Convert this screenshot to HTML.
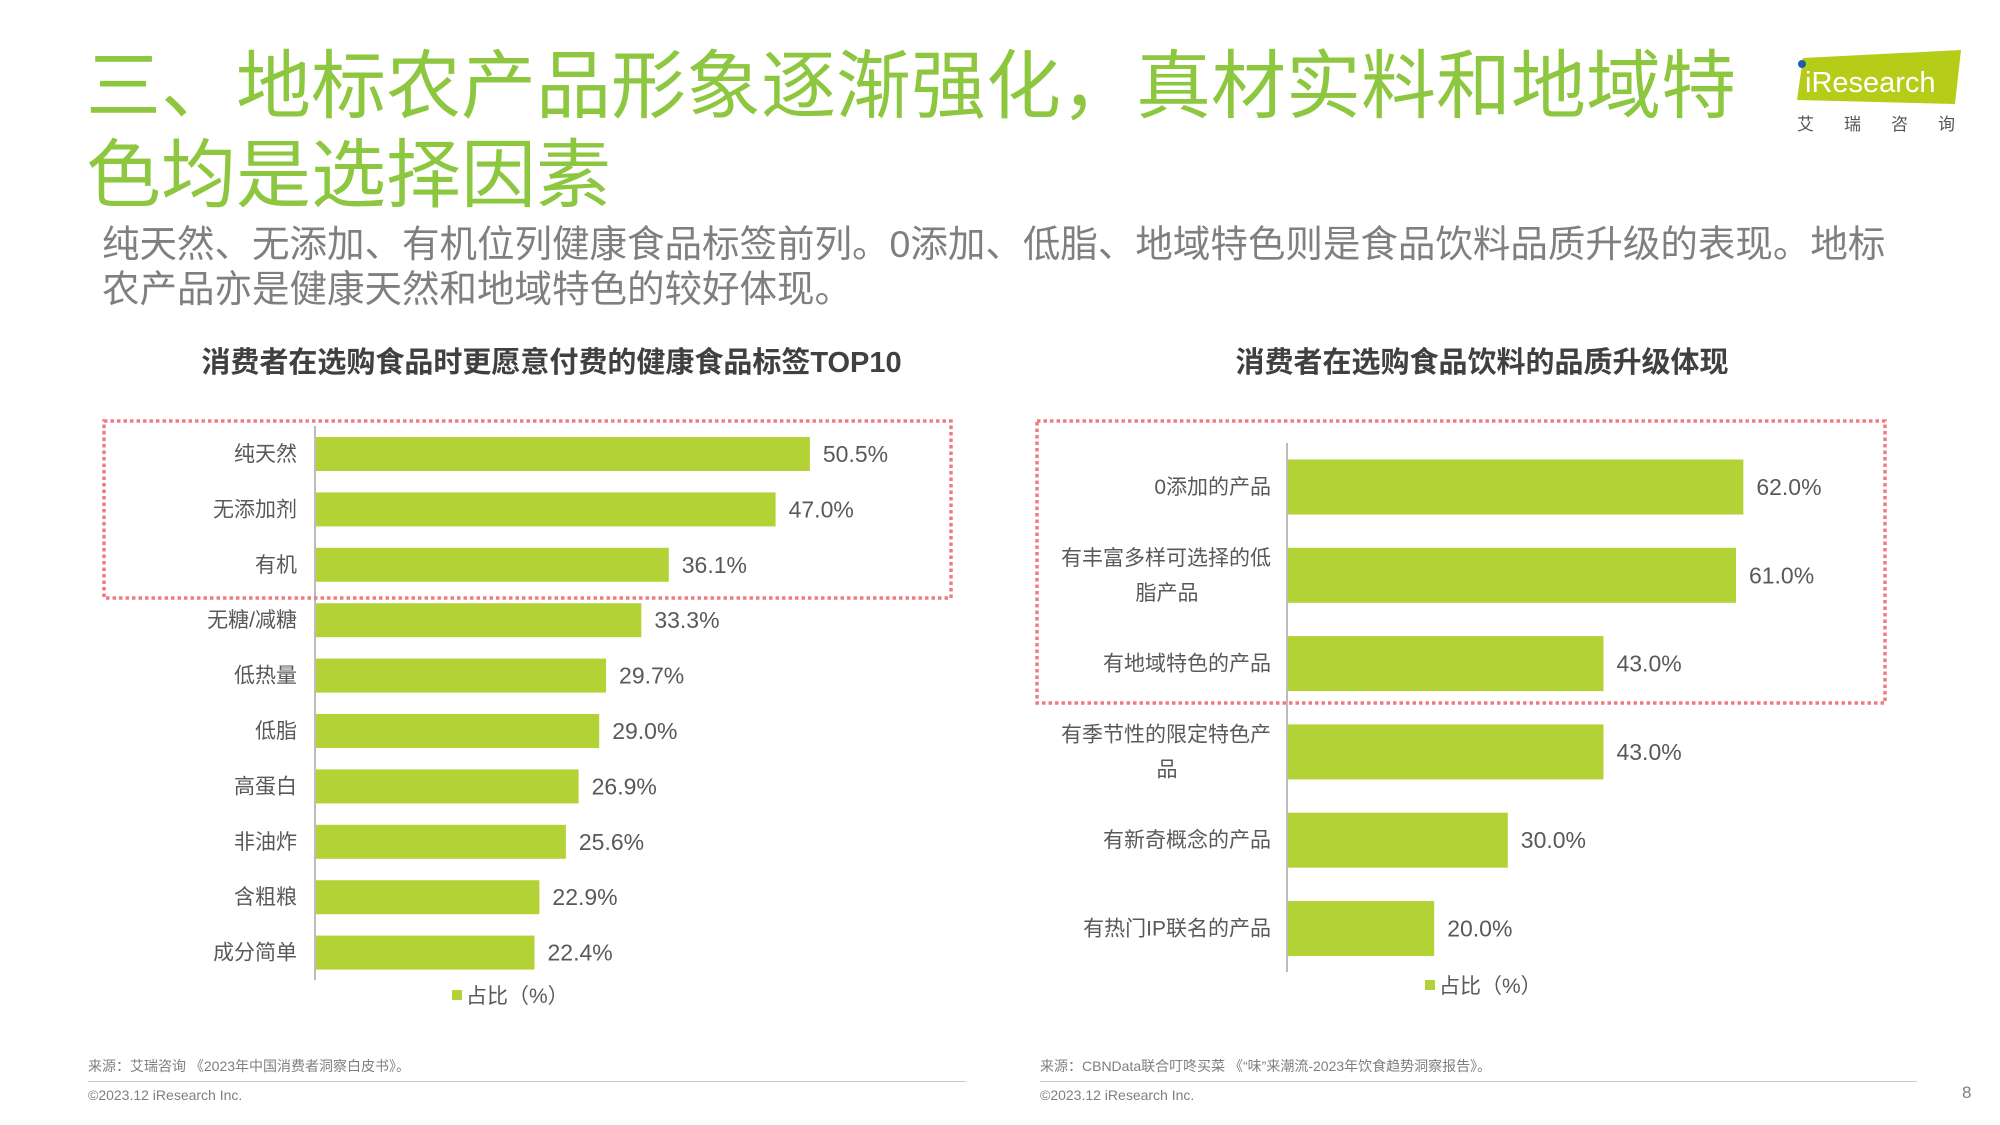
<!DOCTYPE html>
<html><head><meta charset="utf-8">
<style>
body{margin:0;background:#fff;}
#page{position:relative;width:2000px;height:1125px;overflow:hidden;background:#fff;font-family:"Liberation Sans","Noto Sans CJK SC",sans-serif;}
.abs{position:absolute;white-space:nowrap;}
</style></head><body>
<div id="page">
<div class="abs" style="left:86px;top:42px;font-size:75px;line-height:89px;color:#8dc63f;white-space:normal;width:1700px;">三、地标农产品形象逐渐强化，真材实料和地域特<br>色均是选择因素</div>
<div class="abs" style="left:1795px;top:48px;width:168px;height:58px;">
<svg width="168" height="58"><polygon points="8,10 166,2 160,56 2,52" fill="#b5cc18"/><circle cx="7" cy="16" r="4" fill="#1f5fa8"/><text x="10" y="44" font-size="29" fill="#fff" font-family="Liberation Sans, sans-serif">iResearch</text></svg></div>
<div class="abs" style="left:1797px;top:110px;font-size:17px;color:#555;letter-spacing:30px;">艾瑞咨询</div>
<div class="abs" style="left:102px;top:222px;font-size:37.5px;line-height:45px;color:#7f7f7f;">纯天然、无添加、有机位列健康食品标签前列。0添加、低脂、地域特色则是食品饮料品质升级的表现。地标<br>农产品亦是健康天然和地域特色的较好体现。</div>
<div class="abs" style="left:195px;top:339px;width:713px;text-align:center;font-size:29px;font-weight:bold;color:#404040;">消费者在选购食品时更愿意付费的健康食品标签TOP10</div>
<div class="abs" style="left:1233px;top:339px;width:498px;text-align:center;font-size:29px;font-weight:bold;color:#404040;">消费者在选购食品饮料的品质升级体现</div>
<svg class="abs" style="left:0;top:0" width="2000" height="1125">
<g id="left"></g><g id="right"></g>
<rect x="104" y="421" width="847" height="177" fill="none" stroke="#f07b80" stroke-width="3.5" stroke-dasharray="3.5,3"/>
<rect x="1037" y="421" width="848" height="282" fill="none" stroke="#f07b80" stroke-width="3.5" stroke-dasharray="3.5,3"/>
</svg>
<div class="abs" style="left:88px;top:1056px;font-size:14px;color:#7f7f7f;">来源：艾瑞咨询 《2023年中国消费者洞察白皮书》。</div>
<div class="abs" style="left:88px;top:1081px;width:878px;height:1px;background:#ccc;"></div>
<div class="abs" style="left:88px;top:1087px;font-size:14px;color:#7f7f7f;">©2023.12 iResearch Inc.</div>
<div class="abs" style="left:1040px;top:1056px;font-size:14px;color:#7f7f7f;">来源：CBNData联合叮咚买菜 《“味”来潮流-2023年饮食趋势洞察报告》。</div>
<div class="abs" style="left:1040px;top:1081px;width:877px;height:1px;background:#ccc;"></div>
<div class="abs" style="left:1040px;top:1087px;font-size:14px;color:#7f7f7f;">©2023.12 iResearch Inc.</div>
<div class="abs" style="left:1962px;top:1083px;font-size:17px;color:#7f7f7f;">8</div>
</div>
<script>
const leftCategories=["纯天然","无添加剂","有机","无糖/减糖","低热量","低脂","高蛋白","非油炸","含粗粮","成分简单"];
const leftValues=[50.5,47.0,36.1,33.3,29.7,29.0,26.9,25.6,22.9,22.4];
const rightCategories=[["0添加的产品"],["有丰富多样可选择的低","脂产品"],["有地域特色的产品"],["有季节性的限定特色产","品"],["有新奇概念的产品"],["有热门IP联名的产品"]];
const rightValues=[62.0,61.0,43.0,43.0,30.0,20.0];
const NS="http://www.w3.org/2000/svg";
function mk(tag,attrs,parent){const e=document.createElementNS(NS,tag);for(const k in attrs)e.setAttribute(k,attrs[k]);parent.appendChild(e);return e;}
function draw(gid,cats,vals,o){
 const g=document.getElementById(gid);
 const xs=v=>o.x0+v*o.ppu;
 const yc=i=>o.y0+i*o.step;
 const ax=mk('line',{x1:o.x0,x2:o.x0,y1:o.axTop,y2:o.axBot,stroke:'#a6a6a6','stroke-width':1.5},g);
 
 
 vals.forEach((v,i)=>{
  const r=mk('rect',{x:o.x0+1,y:yc(i)-o.bh/2,width:xs(v)-o.x0-1,height:o.bh,fill:'#b2d235'},g);
  
  
  const t=mk('text',{x:xs(v)+13,y:yc(i)+8,'font-size':o.vf,fill:'#595959'},g);
  t.textContent=v.toFixed(1)+'%';
  
  
  const lines=Array.isArray(cats[i])?cats[i]:[cats[i]];
  lines.forEach((ln,j)=>{
   const anchor=(lines.length>1&&j>0)?'middle':'end';
   const lx=anchor==='end'?o.lx:o.lx-104;
   const dy=(j-(lines.length-1)/2)*o.lh;
   const l=mk('text',{x:lx,y:yc(i)+dy+7,'font-size':o.lf,fill:'#595959','text-anchor':anchor},g);
   l.textContent=ln;
   
   
  });
 });
 const sq=mk('rect',{x:o.legX,y:o.legY-6,width:10,height:10,fill:'#b2d235'},g);
 
 
 const lt=mk('text',{x:o.legX+14,y:o.legY+7,'font-size':21,fill:'#595959'},g);
 lt.textContent='占比（%）';
 
 
}
draw('left',leftCategories,leftValues,{x0:315,ppu:9.8,y0:454,step:55.4,bh:34,axTop:426,axBot:980,lx:297,lf:21,vf:23,lh:35,legX:452,legY:996});
draw('right',rightCategories,rightValues,{x0:1287,ppu:7.36,y0:487,step:88.3,bh:55,axTop:443,axBot:972,lx:1271,lf:21,vf:23,lh:35,legX:1425,legY:986});
</script>
</body></html>
